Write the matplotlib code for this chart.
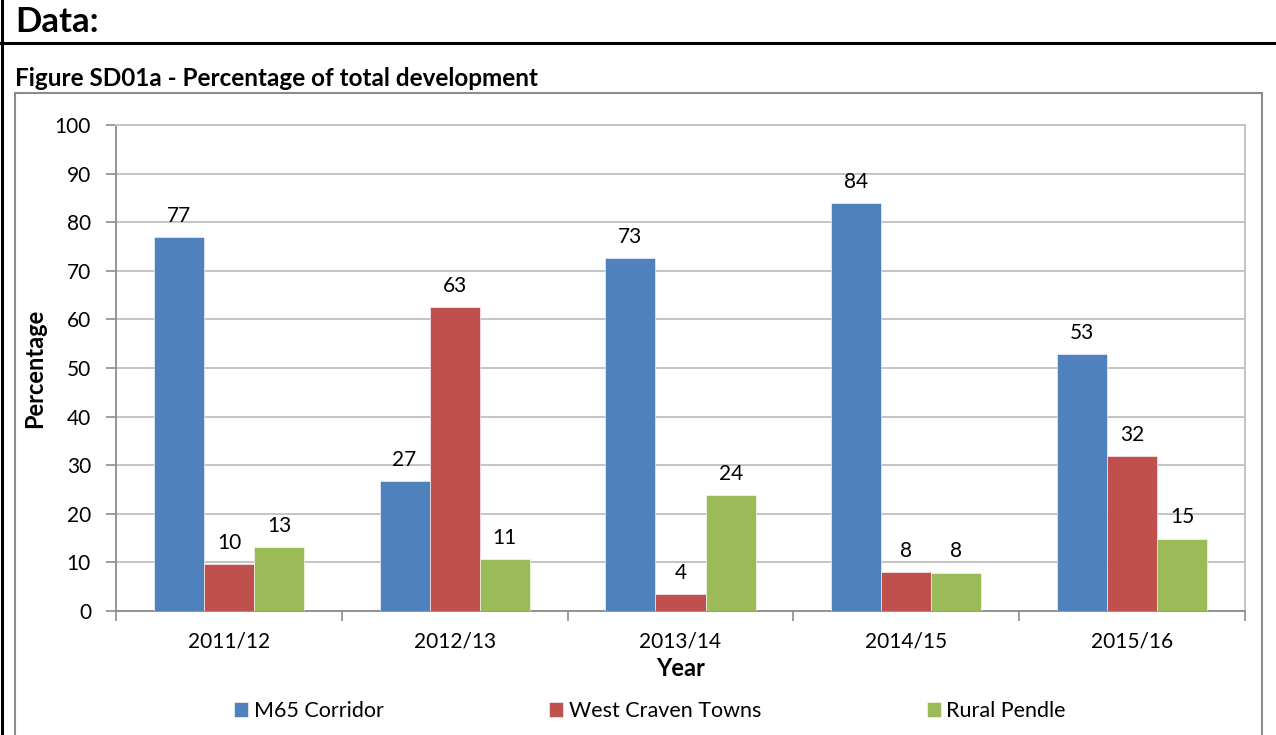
import numpy as np
import matplotlib.pyplot as plt
from matplotlib.lines import Line2D
from matplotlib.patches import Rectangle
from matplotlib.ticker import FixedLocator

plt.rcParams['font.family'] = ['Lato', 'DejaVu Sans']

# Share of total development by area, per monitoring year
years = ['2011/12', '2012/13', '2013/14', '2014/15', '2015/16']
m65_corridor = [77.0, 26.7, 72.6, 83.9, 52.9]
west_craven = [9.7, 62.6, 3.5, 8.0, 31.9]
rural_pendle = [13.2, 10.6, 23.8, 7.9, 14.9]

series = [
    ('M65 Corridor', m65_corridor, '#4F81BD'),
    ('West Craven Towns', west_craven, '#C0504D'),
    ('Rural Pendle', rural_pendle, '#9BBB59'),
]

W, H = 1276, 735
fig = plt.figure(figsize=(W / 100, H / 100), dpi=100)

# page furniture: heading, rule and borders
fig.text(15 / W, 1 - 22 / H, 'Data:', fontsize=25, fontweight='bold', va='center', ha='left')
fig.add_artist(Line2D([0, 1], [1 - 43 / H, 1 - 43 / H], color='black', lw=2.2, transform=fig.transFigure))
fig.add_artist(Line2D([2 / W, 2 / W], [0, 1], color='black', lw=2.2, transform=fig.transFigure))
fig.text(15 / W, 1 - 78 / H, 'Figure SD01a - Percentage of total development', fontsize=17.5,
         fontweight='bold', va='center', ha='left')
fig.add_artist(Rectangle((15 / W, -0.05), (1262 - 15) / W, (1 - 93 / H) + 0.05, fill=False,
                         edgecolor='#8c8c8c', lw=1.5, transform=fig.transFigure))

ax = fig.add_axes([116 / W, 1 - 611 / H, (1245 - 116) / W, (611 - 125) / H])

x = np.arange(len(years))
width = 0.222
for i, (name, vals, color) in enumerate(series):
    pos = x + (i - 1) * width
    bars = ax.bar(pos, vals, width, color=color, edgecolor='white', linewidth=0.4, label=name, zorder=3)
    for b, v in zip(bars, vals):
        ax.annotate(f'{v:.0f}', (b.get_x() + b.get_width() / 2, v), xytext=(0, 8),
                    textcoords='offset points', ha='center', va='bottom', fontsize=15)

ax.set_xlim(-0.5, len(years) - 0.5)
ax.set_ylim(0, 100)
ax.set_yticks(np.arange(0, 101, 10))
ax.set_xticks(x)
ax.set_xticklabels(years)
ax.xaxis.set_minor_locator(FixedLocator(np.arange(-0.5, len(years), 1.0)))
ax.tick_params(axis='x', which='major', length=0, labelsize=15, pad=15)
ax.tick_params(axis='x', which='minor', length=7, width=1.2, color='#8c8c8c', direction='out')
ax.tick_params(axis='y', length=7, width=1.2, color='#8c8c8c', labelsize=15, pad=11)

ax.grid(axis='y', color='#c4c4c4', lw=1.4, zorder=0)
ax.spines['left'].set_color('#8c8c8c')
ax.spines['bottom'].set_color('#8c8c8c')
ax.spines['left'].set_linewidth(1.3)
ax.spines['bottom'].set_linewidth(1.3)
ax.spines['top'].set_color('#c4c4c4')
ax.spines['right'].set_color('#c4c4c4')
ax.spines['top'].set_linewidth(1.4)
ax.spines['right'].set_linewidth(1.4)

ax.set_ylabel('Percentage', fontsize=17, fontweight='bold', labelpad=6)
ax.set_xlabel('Year', fontsize=17, fontweight='bold', labelpad=4)

fig.legend(loc='center', bbox_to_anchor=(650 / W, 1 - 711 / H), ncol=3, frameon=False,
           fontsize=15.5, handlelength=0.65, handleheight=0.65, handletextpad=0.25, columnspacing=7.7)

fig.savefig('out.png', dpi=100)
